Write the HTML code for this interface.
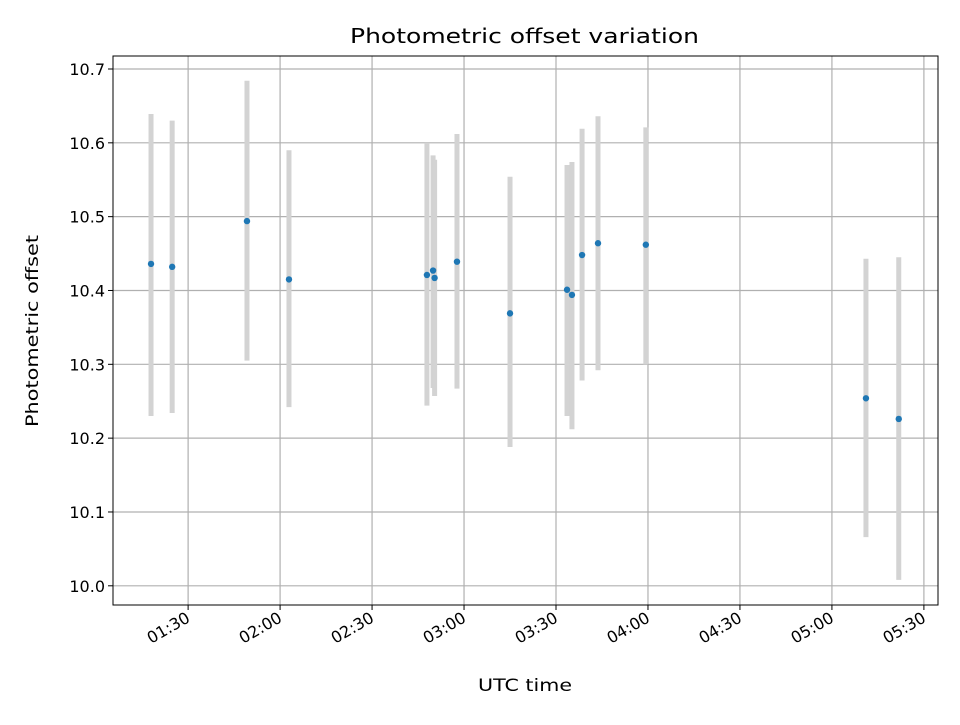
<!DOCTYPE html>
<html><head><meta charset="utf-8"><style>
body{margin:0;background:#fff;font-family:"Liberation Sans","DejaVu Sans",sans-serif}
svg text{font-family:"DejaVu Sans","Liberation Sans",sans-serif}
</style></head><body>
<svg id="chart" width="960" height="720"></svg>
<script>
const times=[77.9,84.8,109.2,122.9,167.9,169.9,170.4,177.7,195.0,213.6,215.2,218.5,223.7,239.3,311.1,321.8];
const values=[10.436,10.432,10.494,10.415,10.421,10.427,10.417,10.439,10.369,10.401,10.394,10.448,10.464,10.462,10.254,10.226];
const upper=[10.639,10.630,10.684,10.590,10.600,10.583,10.577,10.612,10.554,10.570,10.574,10.619,10.636,10.621,10.443,10.445];
const lower=[10.230,10.234,10.305,10.242,10.244,10.268,10.257,10.267,10.188,10.230,10.212,10.278,10.292,10.300,10.066,10.008];
const xTicks=[90,120,150,180,210,240,270,300,330];
const xTickLabels=["01:30","02:00","02:30","03:00","03:30","04:00","04:30","05:00","05:30"];
const yTicks=[10.0,10.1,10.2,10.3,10.4,10.5,10.6,10.7];

const L=113,R=938,T=56,B=605,x0=65.5,x1=334.6,y0=9.974,y1=10.7176;
const sx=v=>L+(v-x0)/(x1-x0)*(R-L);
const sy=v=>B-(v-y0)/(y1-y0)*(B-T);
const svg=document.getElementById('chart');const NS='http://www.w3.org/2000/svg';
function mk(t,a,p){const e=document.createElementNS(NS,t);for(const k in a)e.setAttribute(k,a[k]);(p||svg).appendChild(e);return e;}
const grid=mk('g',{});
xTicks.forEach((t,i)=>{const x=sx(t);
 const g=mk('line',{x1:x,x2:x,y1:T,y2:B,stroke:'#b0b0b0','stroke-width':1.2},grid);
 
 mk('line',{x1:x,x2:x,y1:B,y2:B+5,stroke:'#000','stroke-width':1});
 const tx=mk('text',{x:x+3,y:B+16,'font-size':16,'text-anchor':'end',transform:`rotate(-30 ${x+3} ${B+16})`});
 tx.textContent=xTickLabels[i];});
yTicks.forEach(t=>{const y=sy(t);
 const g=mk('line',{x1:L,x2:R,y1:y,y2:y,stroke:'#b0b0b0','stroke-width':1.2},grid);
 
 mk('line',{x1:L-5,x2:L,y1:y,y2:y,stroke:'#000','stroke-width':1});
 const tx=mk('text',{x:L-8,y:y+6,'font-size':16,'text-anchor':'end'});
 tx.textContent=t.toFixed(1);});
times.forEach((t,i)=>{const e=mk('line',{x1:sx(t),x2:sx(t),y1:sy(upper[i]),y2:sy(lower[i]),stroke:'#d3d3d3','stroke-width':5});
 });
times.forEach((t,i)=>{const c=mk('circle',{cx:sx(t),cy:sy(values[i]),r:3.2,fill:'#1f77b4'});
 });
const fr=mk('rect',{x:L,y:T,width:R-L,height:B-T,fill:'none',stroke:'#000','stroke-width':1});

let e=mk('text',{x:350,y:43,'font-size':20,textLength:349,lengthAdjust:'spacingAndGlyphs'});e.textContent='Photometric offset variation';

e=mk('text',{x:478,y:691,'font-size':17,textLength:94,lengthAdjust:'spacingAndGlyphs'});e.textContent='UTC time';

e=mk('text',{x:38,y:427,'font-size':17,textLength:192,lengthAdjust:'spacingAndGlyphs',transform:'rotate(-90 38 427)'});e.textContent='Photometric offset';

</script>
</body></html>
